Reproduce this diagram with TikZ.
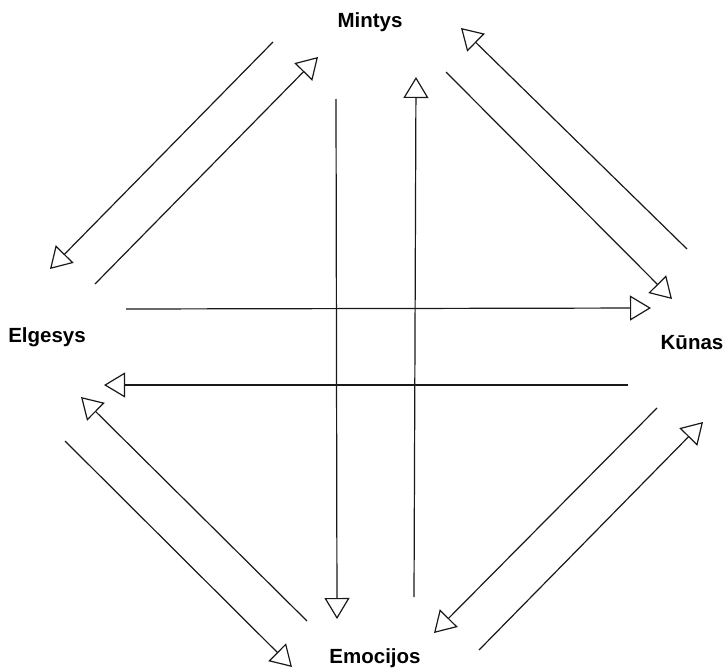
\documentclass[tikz,border=0pt]{standalone}
\usepackage{fontspec}
\setmainfont{Liberation Sans}
\usetikzlibrary{arrows.meta}
\begin{document}
\begin{tikzpicture}[x=1pt,y=-1pt,
  link/.style={draw=black!90, line width=1.2pt,
    -{Triangle[open, length=21pt, width=25pt, line width=1.2pt]}},
  lbl/.style={font=\fontsize{20.5}{24}\selectfont\bfseries, anchor=base, inner sep=0pt}]
\useasboundingbox (0,0) rectangle (727,669);

% the four labels
\node[lbl] (mintys) at (370,27.5) {Mintys};
\node[lbl] (elgesys) at (47,342) {Elgesys};
\node[lbl] (kunas) at (692,349) {Kūnas};
\node[lbl] (emocijos) at (375,663) {Emocijos};

% line end points
\coordinate (a1) at (273,42);  \coordinate (a2) at (50,269);
\coordinate (b1) at (95,284);  \coordinate (b2) at (318,57);
\coordinate (c1) at (687,249); \coordinate (c2) at (461,28);
\coordinate (d1) at (446,72);  \coordinate (d2) at (672,299);
\coordinate (e1) at (336,99);  \coordinate (e2) at (337,619);
\coordinate (f1) at (414,597); \coordinate (f2) at (416,77);
\coordinate (g1) at (126,309); \coordinate (g2) at (651,308);
\coordinate (h1) at (628,385); \coordinate (h2) at (104,385);
\coordinate (i1) at (307,621); \coordinate (i2) at (81,397);
\coordinate (j1) at (65,441);  \coordinate (j2) at (292,667);
\coordinate (k1) at (657,408); \coordinate (k2) at (434,633);
\coordinate (l1) at (479,650); \coordinate (l2) at (703,422);

% Mintys <-> Elgesys
\draw[link] (a1) -- (a2);
\draw[link] (b1) -- (b2);
% Mintys <-> Kunas
\draw[link] (c1) -- (c2);
\draw[link] (d1) -- (d2);
% Mintys <-> Emocijos
\draw[link] (e1) -- (e2);
\draw[link] (f1) -- (f2);
% Elgesys <-> Kunas
\draw[link] (g1) -- (g2);
\draw[link] (h1) -- (h2);
% Elgesys <-> Emocijos
\draw[link] (i1) -- (i2);
\draw[link] (j1) -- (j2);
% Kunas <-> Emocijos
\draw[link] (k1) -- (k2);
\draw[link] (l1) -- (l2);
\end{tikzpicture}
\end{document}
